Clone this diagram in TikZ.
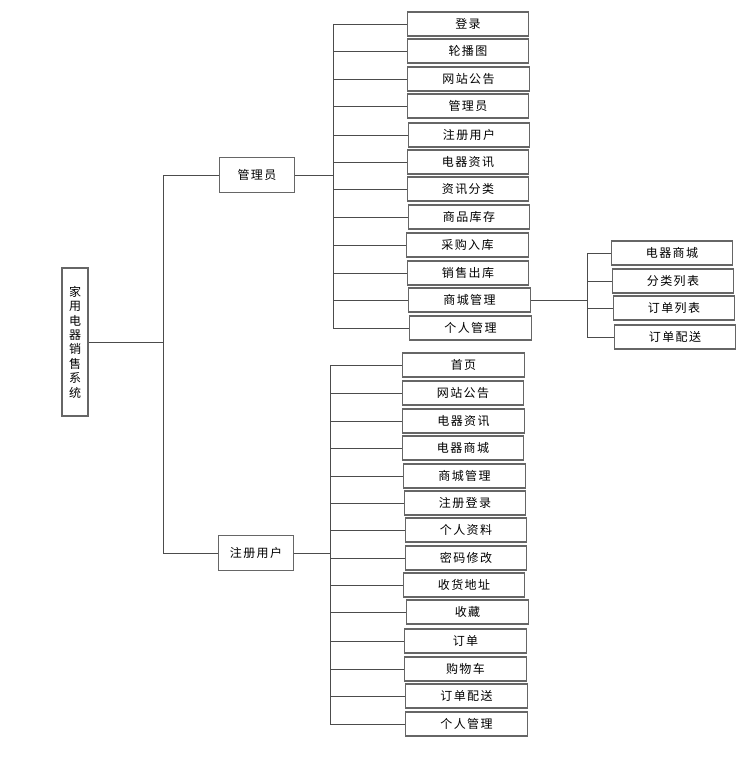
\documentclass[tikz,border=0pt]{standalone}
\usepackage{fontspec}
\setmainfont{Noto Sans CJK SC}[LetterSpace=12]

\begin{document}
\begin{tikzpicture}[x=0.75pt,y=-0.75pt,
	box/.style={draw=black!60,line width=0.9pt,fill=white,inner sep=0pt,font=\fontsize{9}{10.8}\selectfont},
	leaf/.style={box,minimum width=91pt,minimum height=18pt},
	mid/.style={box,minimum width=56pt,minimum height=26pt},
	link/.style={draw=black!70,line width=0.6pt}]
	\useasboundingbox (0,0) rectangle (748,767);

	\node[box,minimum width=19.5pt,minimum height=111pt,align=center] (sys) at (75,342) {家\\用\\电\\器\\销\\售\\系\\统};
	\node[mid] (admin) at (257,175) {管理员};
	\node[mid] (user) at (256,553) {注册用户};

	\coordinate (trunk) at (163,0);
	\coordinate (abus) at (333,0);
	\coordinate (ubus) at (330,0);
	\coordinate (sbus) at (587,0);

	\draw[link] (sys.east) -- (trunk |- sys.east);
	\draw[link] (trunk |- admin.west) -- (trunk |- user.west);
	\draw[link] (trunk |- admin.west) -- (admin.west);
	\draw[link] (trunk |- user.west) -- (user.west);

	\foreach \x/\y/\txt [count=\i] in {468/24/登录, 468/51/轮播图, 468.5/79/网站公告, 468/106/管理员,
		469/135/注册用户, 468/162/电器资讯, 468/189/资讯分类, 469/217/商品库存, 467.5/245/采购入库,
		468/273/销售出库, 469.5/300/商城管理, 470.5/328/个人管理} {
		\node[leaf] (a\i) at (\x,\y) {\txt};
		\draw[link] (abus |- a\i.west) -- (a\i.west);
	}
	\draw[link] (abus |- a1.west) -- (abus |- a12.west);
	\draw[link] (admin.east) -- (abus |- admin.east);

	\foreach \x/\y/\txt [count=\i] in {672/253/电器商城, 673/281/分类列表, 674/308/订单列表, 675/337/订单配送} {
		\node[leaf] (s\i) at (\x,\y) {\txt};
		\draw[link] (sbus |- s\i.west) -- (s\i.west);
	}
	\draw[link] (sbus |- s1.west) -- (sbus |- s4.west);
	\draw[link] (a11.east) -- (sbus |- a11.east);

	\foreach \x/\y/\txt [count=\i] in {463.5/365/首页, 463/393/网站公告, 463.5/421/电器资讯, 463/448/电器商城,
		464.5/476/商城管理, 465/503/注册登录, 466/530/个人资料, 466/558/密码修改, 464/585/收货地址,
		467.5/612/收藏, 465.5/641/订单, 465.5/669/购物车, 466.5/696/订单配送, 466.5/724/个人管理} {
		\node[leaf] (u\i) at (\x,\y) {\txt};
		\draw[link] (ubus |- u\i.west) -- (u\i.west);
	}
	\draw[link] (ubus |- u1.west) -- (ubus |- u14.west);
	\draw[link] (user.east) -- (ubus |- user.east);
\end{tikzpicture}
\end{document}
